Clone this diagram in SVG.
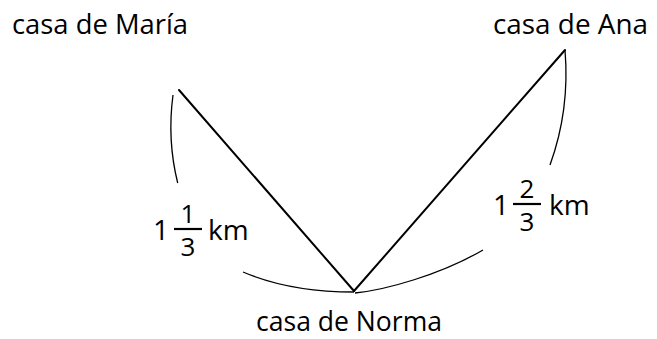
<svg xmlns="http://www.w3.org/2000/svg" width="657" height="339" viewBox="0 0 657 339">
  <style>
    text { font-family: "Open Sans", "Noto Sans", sans-serif; font-size: 28px; fill: #000; }
    .frac { font-size: 26px; text-anchor: middle; }
    .road { stroke: #000; stroke-width: 2; fill: none; stroke-linecap: round; }
    .arc { stroke: #000; stroke-width: 1.3; fill: none; }
    .bar { stroke: #000; stroke-width: 2.2; }
  </style>
  <rect width="657" height="339" fill="#fff"/>
  <g id="connectors">
    <line class="road" x1="179" y1="90" x2="354" y2="291"/>
    <line class="road" x1="354" y1="291" x2="565" y2="50"/>
    <path class="arc" d="M173,95 Q167,140 177.7,183"/>
    <path class="arc" d="M565,50 Q570,110 550,165"/>
    <path class="arc" d="M243,272 Q290,292 354,292"/>
    <path class="arc" d="M355,293 C385,290 440,275 483,250"/>
  </g>
  <g id="casa-maria">
    <text x="12" y="34" textLength="176" lengthAdjust="spacingAndGlyphs">casa de María</text>
  </g>
  <g id="casa-ana">
    <text x="493" y="34" textLength="155" lengthAdjust="spacingAndGlyphs">casa de Ana</text>
  </g>
  <g id="casa-norma">
    <text x="256" y="331" textLength="186" lengthAdjust="spacingAndGlyphs">casa de Norma</text>
  </g>
  <g id="dist-maria-norma">
    <text x="153" y="240">1</text>
    <text class="frac" x="188" y="223">1</text>
    <line class="bar" x1="174" y1="229" x2="202" y2="229"/>
    <text class="frac" x="188" y="256">3</text>
    <text x="208" y="240">km</text>
  </g>
  <g id="dist-ana-norma">
    <text x="493" y="215">1</text>
    <text class="frac" x="527" y="198">2</text>
    <line class="bar" x1="513" y1="204" x2="541" y2="204"/>
    <text class="frac" x="527" y="231">3</text>
    <text x="549" y="215">km</text>
  </g>
</svg>
